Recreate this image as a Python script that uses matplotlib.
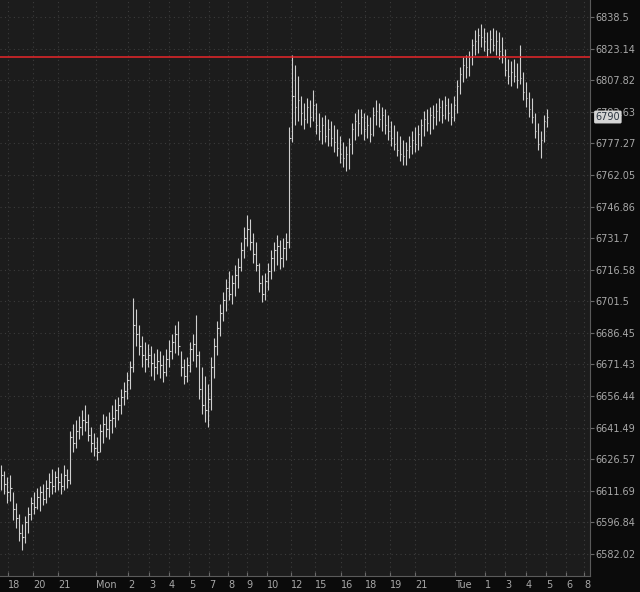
import numpy as np
import matplotlib
matplotlib.use("Agg")
from matplotlib import pyplot as plt
from matplotlib.ticker import FixedLocator, FixedFormatter, NullLocator

# Barras OHLC (sin apertura): minimo, maximo y cierre de cada barra.
lows = [6612, 6610, 6606, 6607, 6598, 6594, 6588, 6584, 6587, 6592,
        6598, 6601, 6603, 6602, 6605, 6606, 6609, 6610, 6611, 6612,
        6610, 6612, 6613, 6615, 6630, 6632, 6636, 6638, 6640, 6635,
        6630, 6628, 6626, 6630, 6634, 6637, 6636, 6639, 6642, 6645,
        6648, 6652, 6655, 6660, 6668, 6680, 6676, 6670, 6668, 6670,
        6666, 6664, 6667, 6665, 6663, 6666, 6670, 6674, 6677, 6676,
        6666, 6662, 6663, 6668, 6673, 6670, 6655, 6648, 6644, 6642,
        6650, 6665, 6676, 6685, 6692, 6697, 6702, 6700, 6704, 6708,
        6716, 6722, 6728, 6726, 6720, 6716, 6706, 6701, 6702, 6707,
        6712, 6716, 6719, 6717, 6718, 6721, 6727, 6778, 6786, 6788,
        6786, 6784, 6787, 6785, 6788, 6782, 6779, 6777, 6778, 6776,
        6776, 6773, 6771, 6768, 6766, 6764, 6765, 6772, 6779, 6781,
        6782, 6779, 6780, 6778, 6781, 6786, 6785, 6783, 6782, 6779,
        6776, 6774, 6771, 6769, 6767, 6767, 6770, 6772, 6773, 6774,
        6776, 6781, 6783, 6782, 6784, 6786, 6788, 6787, 6789, 6788,
        6786, 6788, 6792, 6801, 6807, 6809, 6810, 6815, 6820, 6821,
        6824, 6822, 6819, 6821, 6822, 6820, 6818, 6816, 6810, 6806,
        6805, 6807, 6804, 6806, 6798, 6795, 6790, 6787, 6780, 6774,
        6770, 6778, 6785]
highs = [6624, 6621, 6618, 6619, 6611, 6606, 6601, 6596, 6600, 6604,
         6609, 6611, 6613, 6614, 6615, 6617, 6620, 6622, 6621, 6623,
         6620, 6624, 6622, 6640, 6643, 6645, 6647, 6650, 6652, 6648,
         6642, 6639, 6637, 6643, 6648, 6647, 6649, 6652, 6655, 6656,
         6660, 6663, 6668, 6673, 6703, 6698, 6690, 6685, 6682, 6681,
         6680, 6677, 6679, 6678, 6676, 6679, 6683, 6686, 6690, 6692,
         6678, 6674, 6675, 6682, 6686, 6695, 6678, 6670, 6666, 6662,
         6675, 6684, 6692, 6700, 6706, 6712, 6716, 6714, 6719, 6722,
         6730, 6737, 6743, 6741, 6734, 6730, 6720, 6714, 6715, 6720,
         6726, 6730, 6733, 6731, 6732, 6734, 6785, 6820, 6815, 6810,
         6800, 6797, 6799, 6798, 6803, 6797, 6792, 6790, 6791, 6789,
         6788, 6786, 6784, 6781, 6778, 6776, 6780, 6787, 6792, 6794,
         6794, 6792, 6791, 6790, 6795, 6798, 6797, 6795, 6794, 6791,
         6788, 6786, 6783, 6781, 6779, 6778, 6781, 6783, 6785, 6786,
         6789, 6793, 6794, 6795, 6796, 6797, 6799, 6798, 6800, 6799,
         6797, 6800, 6808, 6814, 6819, 6820, 6822, 6828, 6832, 6833,
         6835, 6833, 6831, 6832, 6833, 6832, 6831, 6829, 6823, 6818,
         6817, 6818, 6816, 6825, 6812, 6807, 6802, 6799, 6792, 6787,
         6783, 6791, 6794]
closes = [6619, 6615, 6611, 6613, 6603, 6599, 6592, 6590, 6597, 6601,
          6606, 6604, 6609, 6611, 6608, 6613, 6616, 6614, 6618, 6616,
          6614, 6619, 6617, 6637, 6634, 6640, 6642, 6645, 6644, 6638,
          6634, 6632, 6630, 6640, 6643, 6641, 6645, 6646, 6650, 6652,
          6656, 6659, 6664, 6670, 6690, 6686, 6680, 6676, 6674, 6676,
          6672, 6670, 6673, 6671, 6668, 6674, 6678, 6682, 6686, 6680,
          6670, 6666, 6671, 6679, 6681, 6676, 6660, 6652, 6650, 6655,
          6670, 6680, 6689, 6696, 6702, 6708, 6705, 6710, 6714, 6718,
          6726, 6732, 6736, 6730, 6724, 6719, 6710, 6705, 6711, 6716,
          6722, 6726, 6728, 6722, 6727, 6730, 6780, 6800, 6795, 6798,
          6792, 6789, 6795, 6790, 6796, 6786, 6783, 6786, 6781, 6784,
          6780, 6778, 6775, 6772, 6770, 6772, 6777, 6784, 6788, 6787,
          6790, 6784, 6786, 6782, 6791, 6793, 6789, 6791, 6786, 6783,
          6780, 6777, 6774, 6772, 6771, 6774, 6776, 6779, 6777, 6782,
          6786, 6789, 6787, 6791, 6790, 6793, 6795, 6791, 6796, 6792,
          6790, 6796, 6805, 6811, 6815, 6814, 6819, 6825, 6827, 6830,
          6829, 6827, 6823, 6828, 6825, 6827, 6822, 6820, 6813, 6810,
          6812, 6810, 6808, 6809, 6802, 6799, 6794, 6790, 6783, 6777,
          6779, 6788, 6790]

# Etiquetas del eje de tiempo y la barra donde empieza cada una.
time_labels = ['18', '20', '21', 'Mon', '2', '3', '4', '5', '7', '8', '9',
               '10', '12', '15', '16', '18', '19', '21', 'Tue', '1', '3',
               '4', '5', '6', '8']
time_pos = [2.2, 10.5, 18.8, 31.5, 42.2, 49.2, 55.8, 62.5, 69.2, 75.5,
            81.8, 88.5, 96.5, 104.5, 113.2, 121.2, 129.5, 137.8, 151.2,
            161.2, 167.8, 174.8, 181.5, 188.2, 194.2]

price_ticks = [6838.5, 6823.14, 6807.82, 6792.63, 6777.27, 6762.05, 6746.86,
               6731.7, 6716.58, 6701.5, 6686.45, 6671.43, 6656.44, 6641.49,
               6626.57, 6611.69, 6596.84, 6582.02]

level = 6819.0
last_price = 6790

bg = '#1c1c1c'
panel = '#0b0b0b'
bar_col = '#cfcfcf'
txt = '#a8a8a8'

fig = plt.figure(figsize=(6.4, 5.92), dpi=100, facecolor=panel)
ax = fig.add_axes([0, 16 / 592, 590 / 640, 576 / 592])
ax.set_facecolor(bg)

x = np.arange(len(closes))
ax.vlines(x, lows, highs, color=bar_col, lw=0.8)
ax.hlines(closes, x, x + 0.35, color=bar_col, lw=0.8)

ax.axhline(level, color='#e8262a', lw=1.1)

ax.set_yscale('log')
ax.set_ylim(6571.7, 6846.8)
ax.set_xlim(-0.5, 196.2)

ax.yaxis.tick_right()
ax.yaxis.set_major_locator(FixedLocator(price_ticks))
ax.yaxis.set_major_formatter(FixedFormatter([f'{p:g}' for p in price_ticks]))
ax.yaxis.set_minor_locator(NullLocator())
ax.tick_params(axis='y', colors='#6a6a6a', labelcolor=txt, labelsize=7,
               length=3, width=0.8, pad=1, direction='out')

ax.set_xticks(time_pos)
ax.set_xticklabels(time_labels, ha='left')
ax.tick_params(axis='x', colors='#6a6a6a', labelcolor=txt, labelsize=7,
               length=3, width=0.8, pad=3, direction='in')

ax.grid(True, which='major', color='#3c3c3c', lw=0.8, ls=(0, (1, 3)))

for side in ['top', 'left']:
    ax.spines[side].set_visible(False)
ax.spines['right'].set_color('#5a5a5a')
ax.spines['bottom'].set_color('#5a5a5a')

# Etiqueta del ultimo precio.
ax.annotate(f'{last_price}', xy=(1.0, last_price), xycoords=('axes fraction', 'data'),
            xytext=(4, 0), textcoords='offset points', va='center', ha='left',
            fontsize=7, color='#2a3440',
            bbox=dict(boxstyle='round,pad=0.15', fc='#d4d4d4', ec='none'),
            annotation_clip=False)

plt.savefig('out.png', dpi=100, facecolor=panel)
